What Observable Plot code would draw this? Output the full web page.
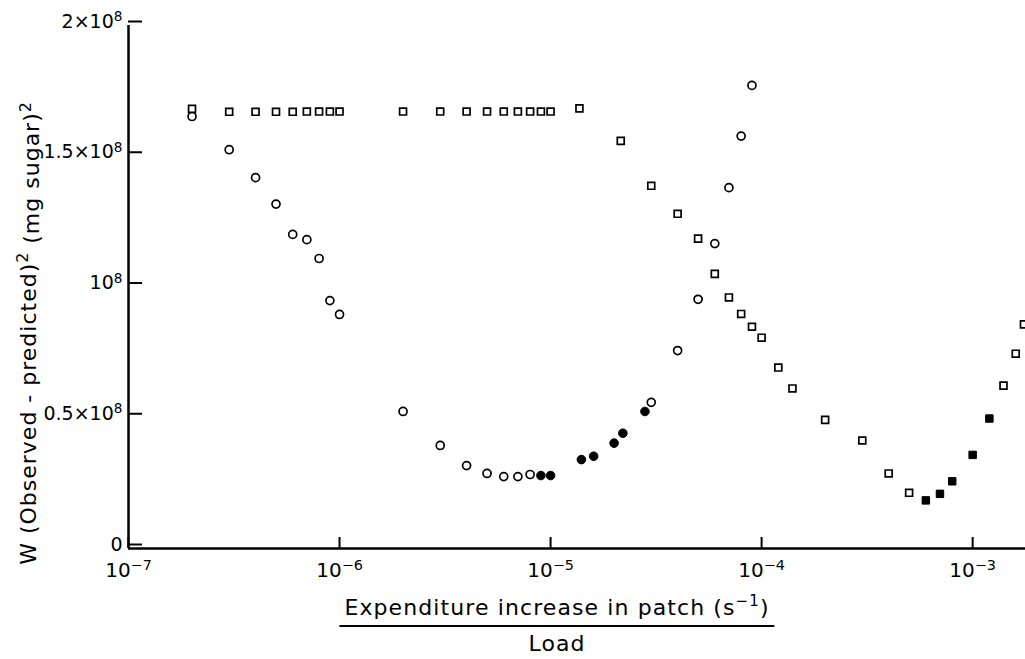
<!DOCTYPE html>
<html><head><meta charset="utf-8">
<script src="https://cdn.jsdelivr.net/npm/d3@7"></script>
<script src="https://cdn.jsdelivr.net/npm/@observablehq/plot@0.6"></script>
<style>
body{margin:0;background:#fff;font-family:"DejaVu Sans",sans-serif;}
#chart svg{display:block}
#chart text{white-space:pre}
#xtitle{position:relative;width:1025px;height:69px}
.frac{position:absolute;left:557px;top:7px;transform:translateX(-50%);text-align:center;font-size:22px;letter-spacing:1.1px;color:#000;line-height:1}
.num{border-bottom:2px solid #000;padding:0 5px 6px;white-space:nowrap}
.num sup{font-size:15px;line-height:0;vertical-align:9px}
.den{padding-top:6px}
</style></head><body>
<div id="chart"></div>
<div id="xtitle"><div class="frac"><div class="num">Expenditure increase in patch (s<sup>−1</sup>)</div><div class="den">Load</div></div></div>
<script>
// Circles series (open / filled)
const circleX = [2e-7,3e-7,4e-7,5e-7,6e-7,7e-7,8e-7,9e-7,1e-6,
  2e-6,3e-6,4e-6,5e-6,6e-6,7e-6,8e-6,9e-6,1e-5,
  1.4e-5,1.6e-5,2e-5,2.2e-5,2.8e-5,3e-5,4e-5,5e-5,6e-5,7e-5,8e-5,9e-5];
const circleW = [1.652,1.525,1.418,1.317,1.201,1.181,1.109,0.948,0.895,
  0.524,0.394,0.317,0.287,0.275,0.275,0.283,0.279,0.279,
  0.340,0.353,0.403,0.441,0.524,0.559,0.757,0.953,1.166,1.380,1.577,1.771];
const circleFilled = [0,0,0,0,0,0,0,0,0, 0,0,0,0,0,0,0,1,1, 1,1,1,1,1,0,0,0,0,0,0,0];

// Squares series (open / filled)
const squareX = [2e-7,3e-7,4e-7,5e-7,6e-7,7e-7,8e-7,9e-7,1e-6,
  2e-6,3e-6,4e-6,5e-6,6e-6,7e-6,8e-6,9e-6,1e-5,
  1.37e-5,2.15e-5,3e-5,4e-5,5e-5,6e-5,7e-5,8e-5,9e-5,1e-4,1.2e-4,1.4e-4,
  2e-4,3e-4,4e-4,5e-4,6e-4,7e-4,8e-4,1e-3,1.2e-3,1.4e-3,1.6e-3,1.75e-3];
const squareW = [1.681,1.670,1.670,1.670,1.670,1.671,1.671,1.671,1.671,
  1.671,1.671,1.671,1.671,1.671,1.671,1.671,1.671,1.671,
  1.683,1.559,1.387,1.280,1.185,1.050,0.960,0.897,0.848,0.806,0.692,0.612,
  0.492,0.413,0.287,0.213,0.184,0.209,0.257,0.358,0.497,0.623,0.745,0.857];
const squareFilled = [0,0,0,0,0,0,0,0,0, 0,0,0,0,0,0,0,0,0,
  0,0,0,0,0,0,0,0,0,0,0,0, 0,0,0,0,1,1,1,1,1,0,0,0];

// Axis ticks ("^" marks a superscript)
const xTickValues = [1e-7,1e-6,1e-5,1e-4,1e-3];
const xTickLabels = ["10^−7","10^−6","10^−5","10^−4","10^−3"];
const yTickValues = [0,0.5e8,1e8,1.5e8,2e8];
const yTickLabels = ["0","0.5×10^8","10^8","1.5×10^8","2×10^8"];
const yLabel = "W (Observed - predicted)^2 (mg sugar)^2";

const circles = circleX.map((x,i)=>({x, w: circleW[i]*1e8, filled: !!circleFilled[i]}));
const squares = squareX.map((x,i)=>({x, w: squareW[i]*1e8, filled: !!squareFilled[i]}));

const plot = Plot.plot({
  width: 1025, height: 590,
  marginLeft: 128, marginRight: 0, marginTop: 25, marginBottom: 42,
  style: {fontFamily: "'DejaVu Sans', sans-serif", fontSize: "19px", color: "#000", background: "#fff", overflow: "visible"},
  x: {type: "log", domain: [1e-7, 1.78e-3]},
  y: {domain: [0, 2e8]},
  marks: [
    Plot.ruleX([1e-7], {strokeWidth: 2.5, stroke: "#000"}),
    Plot.ruleY([0], {strokeWidth: 2.5, stroke: "#000"}),
    Plot.axisX({ticks: xTickValues, tickFormat: d => xTickLabels[xTickValues.indexOf(d)], tickSize: -11, tickPadding: 25, strokeWidth: 2, label: null, fontSize: 20}),
    Plot.axisY({ticks: yTickValues, tickFormat: d => yTickLabels[yTickValues.indexOf(d)], tickSize: -14, tickPadding: 20, strokeWidth: 2, label: null, fontSize: 19, dy: -4}),
    Plot.text([yLabel], {text: d => d, frameAnchor: "left", rotate: -90, dx: -100, dy: 46, fontSize: 22, textAnchor: "middle", fill: "#000"}),
    Plot.dot(circles.filter(d => !d.filled), {x: "x", y: "w", symbol: "circle", r: 4, stroke: "#000", strokeWidth: 1.7, fill: "#fff"}),
    Plot.dot(circles.filter(d => d.filled), {x: "x", y: "w", symbol: "circle", r: 4.3, stroke: "#000", strokeWidth: 1, fill: "#000"}),
    Plot.dot(squares.filter(d => !d.filled), {x: "x", y: "w", symbol: "square", r: 3.9, stroke: "#000", strokeWidth: 1.7, fill: "#fff"}),
    Plot.dot(squares.filter(d => d.filled), {x: "x", y: "w", symbol: "square", r: 4.2, stroke: "#000", strokeWidth: 1, fill: "#000"})
  ]
});

// turn "^token" into raised tspans
function supify(textEl) {
  const s = textEl.textContent;
  if (!s.includes("^")) return;
  const parts = s.split(/\^(\S+)/); // even: normal, odd: superscript
  const el = d3.select(textEl);
  el.text(null);
  let raised = false;
  parts.forEach((p, i) => {
    if (p === "") return;
    const t = el.append("tspan").text(p);
    if (i % 2 === 1) { t.attr("dy", "-0.48em").attr("font-size", "72%"); raised = true; }
    else if (raised) { t.attr("dy", "0.48em"); raised = false; }
  });
}
d3.select(plot).selectAll("text").each(function(){ supify(this); });
d3.select(plot).selectAll("text").attr("letter-spacing", function(){
  return this.closest('[aria-label="text"]') ? "1px" : null;
});
document.getElementById("chart").appendChild(plot);
</script>
</body></html>
